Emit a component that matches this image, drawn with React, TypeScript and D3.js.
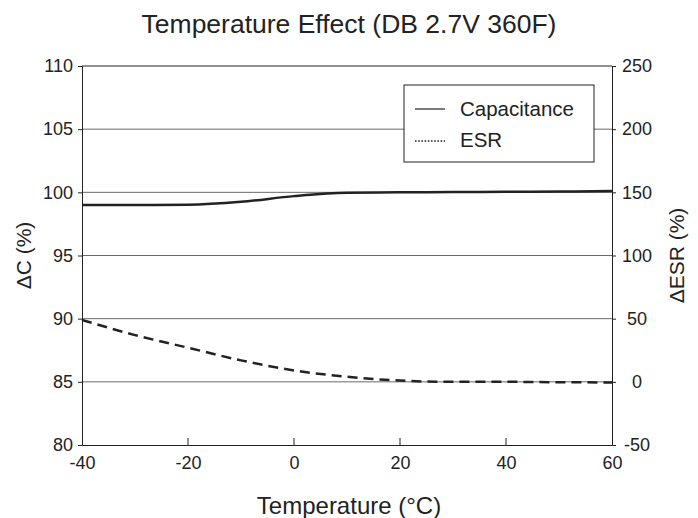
import React, { useEffect, useRef } from 'react';
import * as d3 from 'd3';

// Temperature (°C) on x
const temps = [-40, -30, -20, -10, 0, 10, 20, 30, 40, 50, 60];
// ΔC (%) on the left axis
const capacitance = [99.0, 99.0, 99.02, 99.25, 99.7, 99.97, 100.0, 100.02, 100.04, 100.06, 100.1];
// ΔESR (%) on the right axis
const esr = [49, 37, 27, 17, 9, 4, 1, 0, 0, -0.3, -0.5];

const xTicks = [-40, -20, 0, 20, 40, 60];
const leftTicks = [80, 85, 90, 95, 100, 105, 110];
const rightTicks = [-50, 0, 50, 100, 150, 200, 250];

const FONT = '"Liberation Sans", Arial, Helvetica, sans-serif';
const INK = '#222';
const fmt = (d: d3.NumberValue) => String(d);

export default function App() {
  const svgRef = useRef<SVGSVGElement>(null);

  useEffect(() => {
    if (!svgRef.current) return;
    const width = 698;
    const height = 518;
    const margin = { top: 66, right: 86, bottom: 73, left: 82 };
    const w = width - margin.left - margin.right;
    const h = height - margin.top - margin.bottom;

    const svg = d3.select(svgRef.current);
    svg.selectAll('*').remove();
    svg.attr('width', width).attr('height', height);

    const g = svg.append('g').attr('transform', `translate(${margin.left},${margin.top})`);

    const x = d3.scaleLinear().domain([-40, 60]).range([0, w]);
    const yL = d3.scaleLinear().domain([80, 110]).range([h, 0]);
    const yR = d3.scaleLinear().domain([-50, 250]).range([h, 0]);

    // horizontal gridlines
    g.append('g')
      .selectAll('line')
      .data(leftTicks.filter((t) => t > 80 && t < 110))
      .enter()
      .append('line')
      .attr('x1', 0)
      .attr('x2', w)
      .attr('y1', (d) => yL(d))
      .attr('y2', (d) => yL(d))
      .attr('stroke', '#6a6a6a')
      .attr('stroke-width', 1);

    // left axis
    const left = g.append('g').call(d3.axisLeft(yL).tickValues(leftTicks).tickFormat(fmt).tickSize(4).tickPadding(5));
    left.select('.domain').attr('stroke', INK);
    left.selectAll('line').attr('stroke', INK);
    left.selectAll('text').attr('fill', INK).attr('font-family', FONT).attr('font-size', 18);

    // right axis
    const right = g
      .append('g')
      .attr('transform', `translate(${w},0)`)
      .call(d3.axisRight(yR).tickValues(rightTicks).tickFormat(fmt).tickSize(4).tickPadding(6));
    right.select('.domain').attr('stroke', INK);
    right.selectAll('line').attr('stroke', INK);
    right
      .selectAll('text')
      .attr('fill', INK)
      .attr('font-family', FONT)
      .attr('font-size', 18)
      .attr('text-anchor', 'middle')
      .attr('x', 25);

    // bottom axis with inward ticks
    const bottom = g
      .append('g')
      .attr('transform', `translate(0,${h})`)
      .call(d3.axisBottom(x).tickValues(xTicks).tickFormat(fmt).tickSize(0).tickPadding(11));
    bottom.select('.domain').attr('stroke', INK);
    bottom.selectAll('text').attr('fill', INK).attr('font-family', FONT).attr('font-size', 18);
    g.append('g')
      .selectAll('line')
      .data(xTicks.slice(1, -1))
      .enter()
      .append('line')
      .attr('x1', (d) => x(d))
      .attr('x2', (d) => x(d))
      .attr('y1', h)
      .attr('y2', h - 7)
      .attr('stroke', INK);

    // top border
    g.append('line').attr('x1', 0).attr('x2', w).attr('y1', 0).attr('y2', 0).attr('stroke', INK);

    // lines
    const capLine = d3
      .line<number>()
      .x((_, i) => x(temps[i]))
      .y((d) => yL(d))
      .curve(d3.curveMonotoneX);
    g.append('path')
      .datum(capacitance)
      .attr('d', capLine)
      .attr('fill', 'none')
      .attr('stroke', INK)
      .attr('stroke-width', 2.5);

    const esrLine = d3
      .line<number>()
      .x((_, i) => x(temps[i]))
      .y((d) => yR(d))
      .curve(d3.curveMonotoneX);
    g.append('path')
      .datum(esr)
      .attr('d', esrLine)
      .attr('fill', 'none')
      .attr('stroke', INK)
      .attr('stroke-width', 2.5)
      .attr('stroke-dasharray', '10,6');

    // legend
    const lg = g.append('g').attr('transform', `translate(${404 - margin.left},${85 - margin.top})`);
    lg.append('rect')
      .attr('width', 190)
      .attr('height', 77)
      .attr('fill', '#fff')
      .attr('stroke', INK)
      .attr('stroke-width', 1);
    lg.append('line').attr('x1', 11).attr('x2', 41).attr('y1', 24).attr('y2', 24).attr('stroke', INK).attr('stroke-width', 1.2);
    lg.append('line')
      .attr('x1', 11)
      .attr('x2', 41)
      .attr('y1', 56)
      .attr('y2', 56)
      .attr('stroke', INK)
      .attr('stroke-width', 1.5)
      .attr('stroke-dasharray', '1.6,1.6');
    lg.append('text').attr('x', 56).attr('y', 31).attr('font-family', FONT).attr('font-size', 20.5).attr('fill', INK).text('Capacitance');
    lg.append('text').attr('x', 56).attr('y', 62).attr('font-family', FONT).attr('font-size', 20.5).attr('fill', INK).text('ESR');

    // title and axis labels
    svg.append('text')
      .attr('x', width / 2)
      .attr('y', 33)
      .attr('text-anchor', 'middle')
      .attr('font-family', FONT)
      .attr('font-size', 26.5)
      .attr('fill', INK)
      .text('Temperature Effect (DB 2.7V 360F)');

    svg.append('text')
      .attr('x', width / 2)
      .attr('y', 514)
      .attr('text-anchor', 'middle')
      .attr('font-family', FONT)
      .attr('font-size', 24)
      .attr('fill', INK)
      .text('Temperature (°C)');

    svg.append('text')
      .attr('transform', `translate(31,${margin.top + h / 2}) rotate(-90)`)
      .attr('text-anchor', 'middle')
      .attr('font-family', FONT)
      .attr('font-size', 21)
      .attr('fill', INK)
      .text('ΔC (%)');

    svg.append('text')
      .attr('transform', `translate(684,${margin.top + h / 2}) rotate(-90)`)
      .attr('text-anchor', 'middle')
      .attr('font-family', FONT)
      .attr('font-size', 21)
      .attr('fill', INK)
      .text('ΔESR (%)');
  }, []);

  return <svg ref={svgRef} style={{ position: 'absolute', left: 0, top: 0 }} />;
}
